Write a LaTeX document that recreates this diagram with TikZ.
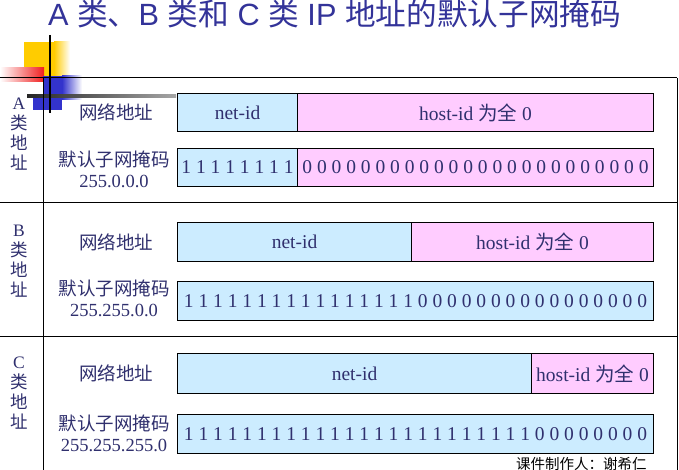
\documentclass[tikz,border=0pt]{standalone}
\usepackage{fontspec}
\setmainfont{Liberation Serif}
\newfontfamily\cjk{Noto Sans CJK SC}
\newfontfamily\titlesans{Liberation Sans}
\definecolor{navy}{RGB}{48,48,110}
\definecolor{titleblue}{RGB}{51,51,153}
\definecolor{netblue}{RGB}{204,236,255}
\definecolor{hostpink}{RGB}{255,204,255}
\definecolor{decoyellow}{RGB}{255,204,0}
\definecolor{decoblue}{RGB}{51,51,204}
\definecolor{decored}{RGB}{240,30,30}
\tikzset{
  seg/.style={draw=black, line width=1.1pt, inner sep=0pt, anchor=north west,
    text=navy, font=\fontsize{19.5}{19.5}\selectfont},
  net/.style={seg, fill=netblue},
  host/.style={seg, fill=hostpink},
  lab/.style={text=navy, align=center, inner sep=0pt,
    font=\cjk\fontsize{18.5}{21}\selectfont},
  side/.style={text=navy, align=center, inner sep=0pt,
    font=\cjk\fontsize{17.5}{20}\selectfont},
  frame/.style={draw=black, line width=1pt},
}
\begin{document}
\begin{tikzpicture}[x=1pt,y=-1pt]
\useasboundingbox (0,0) rectangle (679,470);
\fill[white] (0,0) rectangle (679,470);

% decoration
\fill[decoyellow] (24,42) rectangle (54,76);
\shade[left color=decoyellow, right color=white] (54,42) rectangle (70,76);
\shade[left color=white, right color=decored] (0,68) rectangle (44,82);
\fill[decoblue] (43,76) rectangle (62,110);
\fill[decoblue] (33,98) rectangle (43,110);
\shade[left color=decoblue, right color=white] (62,76) rectangle (82,100);
\shade[left color=black!85, right color=black!35] (27,95) rectangle (176,98);

% title
\node[anchor=base west, inner sep=0pt, text=titleblue, font=\fontsize{30.7}{30.7}\selectfont] (title) at (48,26)
  {\titlesans A {\cjk 类、}B {\cjk 类和} C {\cjk 类} IP {\cjk 地址的默认子网掩码}};

% frame
\draw[frame] (0,78) -- (677,78);
\draw[frame] (0,203) -- (677,203);
\draw[frame] (0,336) -- (677,336);
\draw[frame] (43,78) -- (43,470);
\draw[frame] (677,78) -- (677,470);
\draw[black, line width=1.6pt] (50,35) -- (50,113);

% side labels
\node[side] (sideA) at (19,134) {{\rmfamily A}\\类\\地\\址};
\node[side] (sideB) at (19,261) {{\rmfamily B}\\类\\地\\址};
\node[side] (sideC) at (19,393) {{\rmfamily C}\\类\\地\\址};

% row labels
\node[lab] (addrA) at (116,112) {网络地址};
\node[lab] (maskA) at (114,169) {默认子网掩码\\{\rmfamily 255.0.0.0}};
\node[lab] (addrB) at (116,242) {网络地址};
\node[lab] (maskB) at (114,298) {默认子网掩码\\{\rmfamily 255.255.0.0}};
\node[lab] (addrC) at (116,373) {网络地址};
\node[lab] (maskC) at (114,433) {默认子网掩码\\{\rmfamily 255.255.255.0}};

% class A
\node[net, minimum width=120pt, minimum height=38pt] (anet) at (177,93) {net-id};
\node[host, minimum width=356pt, minimum height=38pt] (ahost) at (297,93) {host-id {\cjk 为全} 0};
\node[net, minimum width=120pt, minimum height=38pt] (amask1) at (177,148) {1 1 1 1 1 1 1 1};
\node[host, minimum width=356pt, minimum height=38pt] (amask0) at (297,148) {0 0 0 0 0 0 0 0 0 0 0 0 0 0 0 0 0 0 0 0 0 0 0 0};

% class B
\node[net, minimum width=234pt, minimum height=39pt] (bnet) at (177,222) {net-id};
\node[host, minimum width=242pt, minimum height=39pt] (bhost) at (411,222) {host-id {\cjk 为全} 0};
\node[net, minimum width=476pt, minimum height=39pt] (bmask) at (177,281) {1 1 1 1 1 1 1 1 1 1 1 1 1 1 1 1 0 0 0 0 0 0 0 0 0 0 0 0 0 0 0 0};

% class C
\node[net, minimum width=354pt, minimum height=40pt] (cnet) at (177,353) {net-id};
\node[host, minimum width=122pt, minimum height=40pt] (chost) at (531,353) {host-id {\cjk 为全} 0};
\node[net, minimum width=476pt, minimum height=39pt] (cmask) at (177,414) {1 1 1 1 1 1 1 1 1 1 1 1 1 1 1 1 1 1 1 1 1 1 1 1 0 0 0 0 0 0 0 0};

% credit (cut off at the bottom edge)
\begin{scope}
\clip (0,0) rectangle (679,470);
\node[anchor=north west, inner sep=0pt, font=\cjk\fontsize{14.5}{14.5}\selectfont] (credit) at (516,457) {课件制作人：谢希仁};
\end{scope}
\end{tikzpicture}
\end{document}
